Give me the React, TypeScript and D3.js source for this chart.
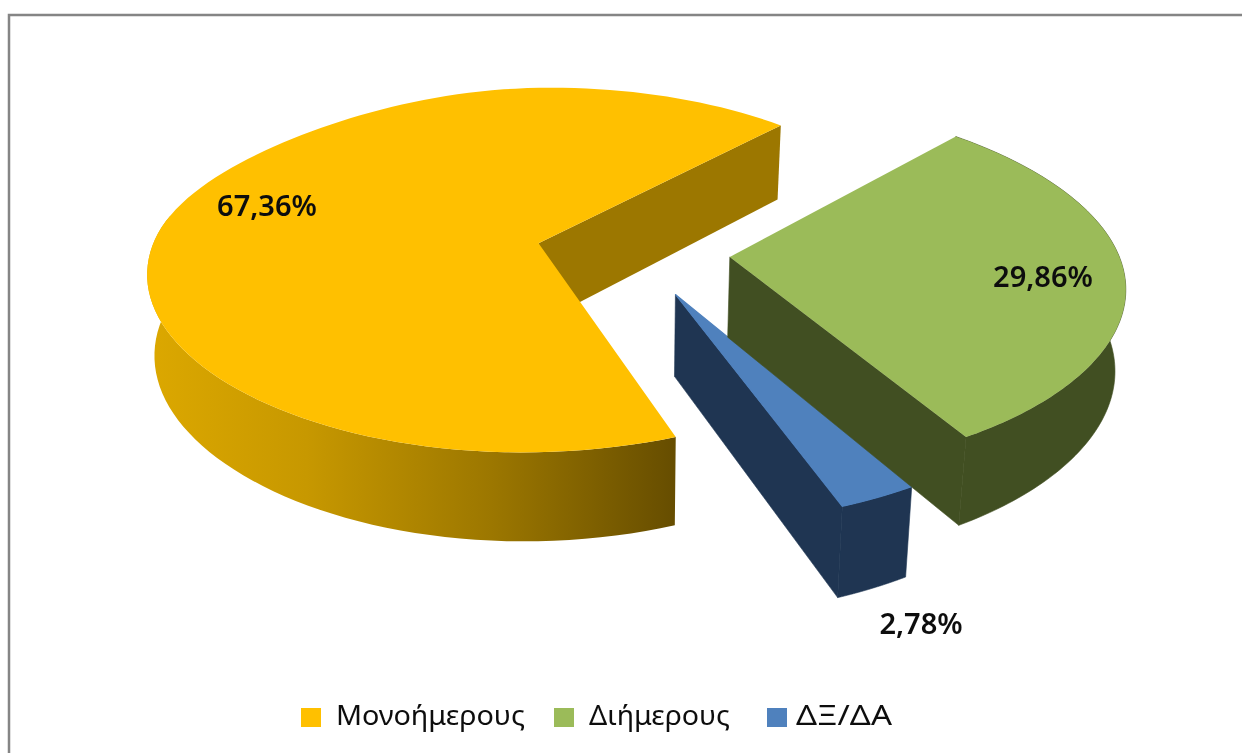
import React from "react";
import * as d3 from "d3";

const categories = ["Μονοήμερους", "Διήμερους", "ΔΞ/ΔΑ"];
const values = [67.36, 29.86, 2.78];
const valueLabels = ["67,36%", "29,86%", "2,78%"];
const topColors = ["#ffc000", "#9bbb59", "#4f81bd"];
const sideColors = ["#9c7700", "#414f22", "#1f3552"];
const labelPos: [number, number][] = [[267, 204], [1043, 275], [921, 622]];
const legendSwatchX = [301, 554, 767];
const legendTextX = [336, 589, 796];
const legendTextW = [189, 141, 96];

const vx = 633, vy = 252, A = 388, B = 181, P = 0.148, E = 0.25, D = 80;
const FLAT_BACK_LEFT = 0.035, FLAT_OTHER = 0.008;
const deg = Math.PI / 180;
const pie = d3.pie<number>().sort(null).startAngle(160 * deg).endAngle((160 + 360) * deg);
const arcs = pie(values);

const topPt = (u: number, v: number): [number, number] => {
  const w = 1 - P * v;
  return [vx + (A * u) / w, vy + (B * v) / w];
};
const botPt = (u: number, v: number): [number, number] => {
  const w = 1 - P * v;
  const t = topPt(u, v);
  const dx = t[0] - vx;
  return [vx + dx * (dx > 0 ? 0.978 : 0.985), t[1] + D / Math.pow(w, 0.7)];
};
const line = d3.line<[number, number]>();

const sliceGeom = (a: d3.PieArcDatum<number>) => {
  const mid = (a.startAngle + a.endAngle) / 2;
  const ox = E * Math.sin(mid), oy = -E * Math.cos(mid);
  const ts = d3.range(0, 121).map((i) => a.startAngle + ((a.endAngle - a.startAngle) * i) / 120);
  const rim = ts.map((t) => {
    const backLeft = Math.sin(t) < 0 && Math.cos(t) > 0;
    const r = 1 - (backLeft ? FLAT_BACK_LEFT : FLAT_OTHER) * Math.sin(2 * t) ** 2;
    return [ox + r * Math.sin(t), oy - r * Math.cos(t)] as [number, number];
  });
  const topRim = rim.map(([u, v]) => topPt(u, v));
  const botRim = rim.map(([u, v]) => botPt(u, v));
  const apexT = topPt(ox, oy), apexB = botPt(ox, oy);
  return { rim, topRim, botRim, apexT, apexB };
};
const geoms = arcs.map(sliceGeom);

export default function App() {
  const y = geoms[0], g = geoms[1], b = geoms[2];
  const wall = (gm: typeof y) => {
    const idx = gm.rim.map((p, i) => (p[1] > (gm === y ? -0.22 : -1) ? i : -1)).filter((i) => i >= 0);
    const t = idx.map((i) => gm.topRim[i]);
    const bt = idx.map((i) => gm.botRim[i]).reverse();
    return line([...t, ...bt]) + "Z";
  };
  const last = 120;
  return (
    <svg width={1242} height={753} style={{ position: "fixed", left: 0, top: 0 }} fontFamily="'Noto Sans', sans-serif">
      <defs>
        <linearGradient id="yw" gradientUnits="userSpaceOnUse" x1={148} x2={676} y1={0} y2={0}>
          <stop offset="0" stopColor="#dca800" />
          <stop offset="0.3" stopColor="#c79800" />
          <stop offset="0.65" stopColor="#9c7700" />
          <stop offset="1" stopColor="#664d00" />
        </linearGradient>
        <filter id="soft" x="-5%" y="-20%" width="110%" height="140%">
          <feGaussianBlur stdDeviation="0.7" />
        </filter>
      </defs>
      <rect width={1242} height={753} fill="#fff" />
      <path d="M9 753V15H1242" fill="none" stroke="#858585" strokeWidth={2.5} />

      {/* yellow */}
      <path d={wall(y)} fill="url(#yw)" />
      <path d={line([y.apexT, y.topRim[last], y.botRim[last], y.apexB])! + "Z"} fill={sideColors[0]} />
      <path d={line([y.apexT, ...y.topRim])! + "Z"} fill={topColors[0]} />

      {/* blue: its cut face towards the yellow slice is the end of its arc */}
      <path d={line([b.apexT, b.topRim[last], b.botRim[last], b.apexB])! + "Z"} fill={sideColors[2]} stroke={sideColors[2]} strokeWidth={0.6} />
      <path d={wall(b)} fill={sideColors[2]} stroke={sideColors[2]} strokeWidth={0.6} />
      <path d={line([b.apexT, ...b.topRim])! + "Z"} fill={topColors[2]} stroke={topColors[2]} strokeWidth={1.2} />

      {/* green */}
      <path d={wall(g)} fill={sideColors[1]} stroke={sideColors[1]} strokeWidth={0.6} />
      <path d={line([g.apexT, g.topRim[last], g.botRim[last], g.apexB])! + "Z"} fill={sideColors[1]} stroke={sideColors[1]} strokeWidth={0.6} />
      <path d={line([g.apexT, ...g.topRim])! + "Z"} fill={topColors[1]} />

      {valueLabels.map((l, i) => (
        <text key={l} x={labelPos[i][0]} y={labelPos[i][1]} textAnchor="middle" dominantBaseline="central"
          fontSize={29} fontWeight={600} fill="#111" filter="url(#soft)">{l}</text>
      ))}
      {categories.map((c, i) => (
        <g key={c}>
          <rect x={legendSwatchX[i]} y={708} width={20} height={19} fill={topColors[i]} />
          <text x={legendTextX[i]} y={714} dominantBaseline="central" fontSize={28} fill="#111"
            textLength={legendTextW[i]} lengthAdjust="spacingAndGlyphs" filter="url(#soft)">{c}</text>
        </g>
      ))}
    </svg>
  );
}
